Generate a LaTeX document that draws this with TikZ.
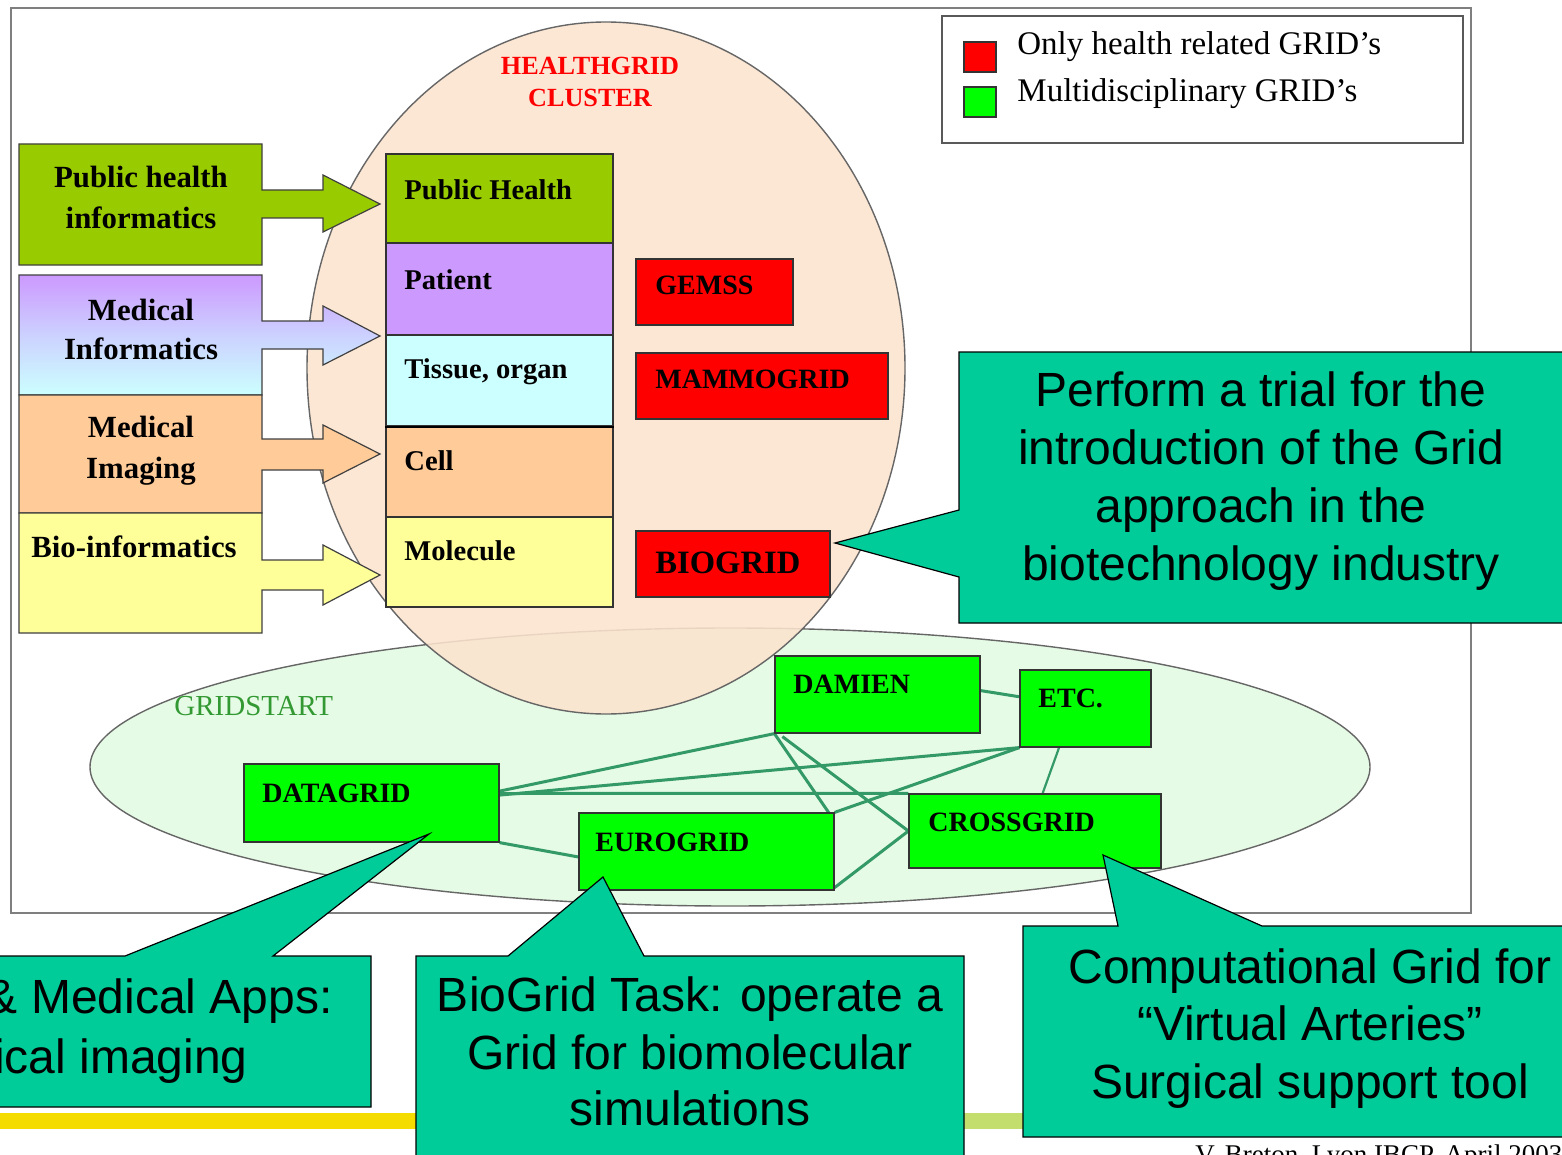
\documentclass[tikz,border=0pt]{standalone}
\usepackage{fontspec}
\setmainfont{Liberation Serif}
\newfontfamily\arialf{Liberation Sans}
\usetikzlibrary{fit,calc}
\definecolor{pubgreen}{HTML}{99CC00}
\definecolor{lpurple}{HTML}{CC99FF}
\definecolor{lcyan}{HTML}{CCFFFF}
\definecolor{lorange}{HTML}{FFCC99}
\definecolor{lyellow}{HTML}{FFFF99}
\definecolor{gridred}{HTML}{FF0000}
\definecolor{gridgreen}{HTML}{00FF00}
\definecolor{callc}{HTML}{00CC99}
\definecolor{peach}{HTML}{FCE4CF}
\definecolor{palegreen}{HTML}{E6FBE6}
\definecolor{connc}{HTML}{339966}
\definecolor{framec}{HTML}{7F7F7F}
\definecolor{gstext}{HTML}{339933}
\definecolor{baryellow}{HTML}{F5DC00}
\definecolor{bargreen}{HTML}{C4DE6E}
\begin{document}
\begin{tikzpicture}[x=0.5pt,y=-0.5pt,
  box/.style={draw=black!80, line width=0.6pt, inner sep=0pt},
  lbl/.style={inner sep=0pt, anchor=base west, font=\bfseries\fontsize{14.3}{17}\selectfont},
  glbl/.style={inner sep=0pt, anchor=base west, font=\bfseries\fontsize{14}{17}\selectfont},
  llbl/.style={inner sep=0pt, anchor=base, font=\bfseries\fontsize{15.4}{18}\selectfont},
  leg/.style={inner sep=0pt, anchor=base west, font=\fontsize{16.5}{19}\selectfont},
  conn/.style={draw=connc, line width=1.5pt},
  call/.style={fill=callc, draw=black, line width=0.6pt},
  ctext/.style={inner sep=0pt, anchor=base, font=\arialf\fontsize{24}{29}\selectfont},
  arrbox/.style={draw=black!75, line width=0.6pt}
]
\useasboundingbox (0,0) rectangle (1562,1155);
\fill[white] (0,0) rectangle (1562,1155);

% frame
\draw[framec, line width=1.2pt] (11,8) rectangle (1471,913);

% legend
\draw[black!65, line width=0.8pt] (942,16) rectangle (1463,143);
\node[box, fill=gridred, fit={(964,42) (996,72)}] (legR) {};
\node[box, fill=gridgreen, fit={(964,87) (996,117)}] (legG) {};
\node[leg] (legRt) at (1017,55) {Only health related GRID’s};
\node[leg] (legGt) at (1017,102) {Multidisciplinary GRID’s};

% ellipses
\fill[palegreen] (730,767) ellipse [x radius=320pt, y radius=69.5pt];
\draw[black!60, line width=0.7pt] (730,767) ellipse [x radius=320pt, y radius=69.5pt];
\fill[peach, fill opacity=0.88] (606,368) ellipse [x radius=149.5pt, y radius=173pt];
\draw[black!60, line width=0.7pt] (606,368) ellipse [x radius=149.5pt, y radius=173pt];

\node[inner sep=0pt, anchor=base, text=gridred, font=\bfseries\fontsize{13.1}{16}\selectfont] (hg1) at (590,75) {HEALTHGRID};
\node[inner sep=0pt, anchor=base, text=gridred, font=\bfseries\fontsize{13.1}{16}\selectfont] (hg2) at (590,107) {CLUSTER};
\node[inner sep=0pt, anchor=base west, text=gstext, font=\fontsize{14.5}{17}\selectfont] (gs) at (174,715) {GRIDSTART};

% left boxes with arrows
\path[arrbox, fill=pubgreen] (19,144) -- (262,144) -- (262,190) -- (323,190) -- (323,175) -- (380,204) -- (323,232) -- (323,218) -- (262,218) -- (262,265) -- (19,265) -- cycle;
\path[arrbox, top color=lpurple, bottom color=lcyan, middle color=lpurple!45!lcyan] (19,275) -- (262,275) -- (262,321) -- (323,321) -- (323,306) -- (380,336) -- (323,365) -- (323,349) -- (262,349) -- (262,395) -- (19,395) -- cycle;
\path[arrbox, fill=lorange] (19,395) -- (262,395) -- (262,439) -- (323,439) -- (323,425) -- (380,454) -- (323,483) -- (323,470) -- (262,470) -- (262,513) -- (19,513) -- cycle;
\path[arrbox, fill=lyellow] (19,513) -- (262,513) -- (262,560) -- (323,560) -- (323,545) -- (380,575) -- (323,605) -- (323,590) -- (262,590) -- (262,633) -- (19,633) -- cycle;

\node[llbl] (l1a) at (141,188) {Public health};
\node[llbl] (l1b) at (141,228) {informatics};
\node[llbl] (l2a) at (141,320) {Medical};
\node[llbl] (l2b) at (141,359) {Informatics};
\node[llbl] (l3a) at (141,437) {Medical};
\node[llbl] (l3b) at (141,478) {Imaging};
\node[llbl] (l4a) at (134,557) {Bio-informatics};

% central stack
\node[box, fill=pubgreen, fit={(386,154) (613,243)}] (ph) {};
\node[box, fill=lpurple, fit={(386,243) (613,335)}] (pat) {};
\node[box, fill=lcyan, fit={(386,335) (613,426)}] (tis) {};
\node[box, fill=lorange, fit={(386,426) (613,517)}] (cell) {};
\node[box, fill=lyellow, fit={(386,517) (613,607)}] (mol) {};
\draw[black, line width=0.9pt] (tis.south west) -- (tis.south east);
\node[lbl] (phT) at (404,199) {Public Health};
\node[lbl] (patT) at (404,289) {Patient};
\node[lbl] (tisT) at (404,378) {Tissue, organ};
\node[lbl] (cellT) at (404,470) {Cell};
\node[lbl] (molT) at (404,560) {Molecule};

% red boxes
\node[box, fill=gridred, fit={(636,259) (793,325)}] (gemss) {};
\node[box, fill=gridred, fit={(636,353) (888,419)}] (mammo) {};
\node[box, fill=gridred, fit={(636,531) (830,597)}] (biogrid) {};
\node[glbl] (gemssT) at (655,294) {GEMSS};
\node[glbl] (mammoT) at (655,388) {MAMMOGRID};
\node[inner sep=0pt, anchor=base west, font=\bfseries\fontsize{16.3}{19}\selectfont] (biogridT) at (655,573) {BIOGRID};

% green boxes (named, used as connector ends)
\node[box, fill=gridgreen, fit={(775,656) (980,733)}] (damien) {};
\node[box, fill=gridgreen, fit={(1020,670) (1151,747)}] (etc) {};
\node[box, fill=gridgreen, fit={(244,764) (499,842)}] (datagrid) {};
\node[box, fill=gridgreen, fit={(579,813) (834,890)}] (eurogrid) {};
\node[box, fill=gridgreen, fit={(909,794) (1161,868)}] (crossgrid) {};

% connectors
\draw[conn] ($(damien.north east)!0.45!(damien.south east)$) -- ($(etc.north west)!0.35!(etc.south west)$);
\draw[conn] (damien.south west) -- ($(datagrid.north east)!0.35!(datagrid.south east)$);
\draw[conn] (etc.south west) -- ($(datagrid.north east)!0.40!(datagrid.south east)$);
\draw[conn] (etc.south west) -- (eurogrid.north east);
\draw[conn] ($(datagrid.north east)!0.38!(datagrid.south east)$) -- (crossgrid.north west);
\draw[conn] (damien.south west) -- ($(eurogrid.north east)+(-6,0)$);
\draw[conn] ($(damien.south west)+(8,3)$) -- (crossgrid.west);
\draw[conn] (crossgrid.west) -- ($(eurogrid.south east)+(0,-3)$);
\draw[conn] (datagrid.south east) -- ($(eurogrid.north west)!0.57!(eurogrid.south west)$);
\draw[conn, line width=1.1pt] ($(etc.south west)!0.3!(etc.south east)$) -- ($(crossgrid.north west)!0.53!(crossgrid.north east)$);

% redraw green boxes over connectors
\node[box, fill=gridgreen, fit={(775,656) (980,733)}] (damienF) {};
\node[box, fill=gridgreen, fit={(1020,670) (1151,747)}] (etcF) {};
\node[box, fill=gridgreen, fit={(244,764) (499,842)}] (datagridF) {};
\node[box, fill=gridgreen, fit={(579,813) (834,890)}] (eurogridF) {};
\node[box, fill=gridgreen, fit={(909,794) (1161,868)}] (crossgridF) {};
\node[glbl] (damienT) at (793,693) {DAMIEN};
\node[glbl] (etcT) at (1038,707) {ETC.};
\node[glbl] (datagridT) at (262,802) {DATAGRID};
\node[glbl] (eurogridT) at (595,851) {EUROGRID};
\node[glbl] (crossgridT) at (928,831) {CROSSGRID};

% bottom bar
\fill[baryellow] (0,1113) rectangle (690,1129);
\fill[bargreen] (690,1113) rectangle (1562,1129);

% callouts
\coordinate (tipA) at (835,543);
\coordinate (tipB) at (429,834);
\coordinate (tipC) at (603,877);
\coordinate (tipD) at (1103,855);
\path[call] (959,352) -- (1600,352) -- (1600,623) -- (959,623) -- (959,577) -- (tipA) -- (959,510) -- cycle;
\path[call] (-50,956) -- (125,956) -- (tipB) -- (273,956) -- (371,956) -- (371,1107) -- (-50,1107) -- cycle;
\path[call] (416,956) -- (508,956) -- (tipC) -- (644,956) -- (964,956) -- (964,1200) -- (416,1200) -- cycle;
\path[call] (1023,926) -- (1118,926) -- (tipD) -- (1262,926) -- (1600,926) -- (1600,1137) -- (1023,1137) -- cycle;

\node[ctext] (c1a) at (1261,406) {Perform a trial for the};
\node[ctext] (c1b) at (1261,464) {introduction of the Grid};
\node[ctext] (c1c) at (1261,522) {approach in the};
\node[ctext] (c1d) at (1261,580) {biotechnology industry};

\node[ctext, anchor=base east] (c2a) at (333,1013) {\& Medical Apps:};
\node[ctext, anchor=base east] (c2b) at (248,1073) {ical imaging};

\node[ctext] (c3a) at (690,1011) {BioGrid Task: operate a};
\node[ctext] (c3b) at (690,1069) {Grid for biomolecular};
\node[ctext] (c3c) at (690,1125) {simulations};

\node[ctext] (c4a) at (1310,983) {Computational Grid for};
\node[ctext] (c4b) at (1310,1040) {“Virtual Arteries”};
\node[ctext] (c4c) at (1310,1098) {Surgical support tool};

% footer
\node[inner sep=0pt, anchor=base west, font=\fontsize{13.5}{16}\selectfont] (foot) at (1195,1163) {V. Breton, Lyon IBCP, April 2003};
\end{tikzpicture}
\end{document}
